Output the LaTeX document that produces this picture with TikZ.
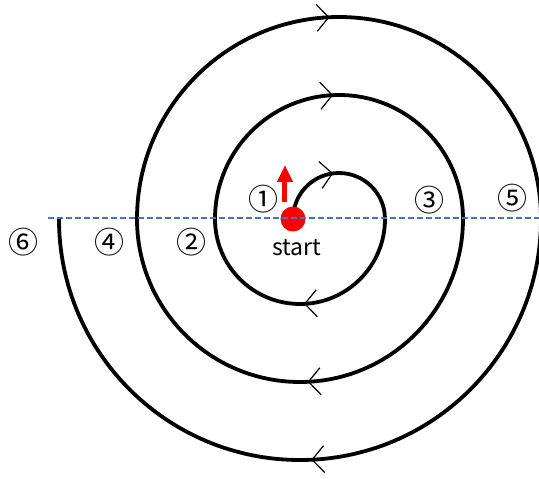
\documentclass[tikz,border=0pt]{standalone}
\usepackage{fontspec}
\setmainfont{Noto Sans CJK KR}
\usetikzlibrary{arrows.meta, decorations.markings, positioning}
\definecolor{axisblue}{RGB}{68,114,196}
\definecolor{dotred}{RGB}{255,0,0}
\tikzset{
  chev/.tip={Straight Barb[length=12pt, width=27pt, line width=1.2pt]},
  spir/.style={line width=3.8pt, black,
    decoration={markings, mark=at position #1 with {\arrow{chev}}},
    postaction={decorate}},
  spir/.default=0.485,
  axis/.style={axisblue, line width=1.6pt, dash pattern=on 6pt off 3pt},
  num/.style={font=\fontsize{30}{30}\selectfont, inner sep=0pt},
  lbl/.style={font=\fontsize{23}{23}\selectfont, inner sep=0pt},
  ptr/.style={dotred, line width=5pt, -{Triangle[length=17pt, width=15pt]}}
}

\begin{document}
\begin{tikzpicture}[x=1pt, y=1pt]
  \useasboundingbox (-293,-260) rectangle (246,219);
  \coordinate (o) at (0,0);
  % spiral: upper halves round (46,0), lower halves round (7,0)
  \draw[spir=0.46] (o) arc[start angle=180, end angle=0, radius=46] coordinate (a1);
  \draw[spir] (a1) arc[start angle=0, end angle=-180, radius=85] coordinate (a2);
  \draw[spir] (a2) arc[start angle=180, end angle=0, radius=124] coordinate (a3);
  \draw[spir] (a3) arc[start angle=0, end angle=-180, radius=163] coordinate (a4);
  \draw[spir] (a4) arc[start angle=180, end angle=0, radius=202] coordinate (a5);
  \draw[spir] (a5) arc[start angle=0, end angle=-180, radius=241] coordinate (a6);
  % start point
  \node[circle, fill=dotred, minimum size=25pt, inner sep=0pt] (dot) at (o) {};
  \node[lbl] (start) at (4,-29) {start};
  \coordinate (p0) at (-8,17);
  \coordinate (p1) at (-8,54);
  \draw[ptr] (p0) -- (p1);
  % crossing numbers
  \node[num] (n1) at (-29,20) {①};
  \node[num] (n2) at (-101,-23) {②};
  \node[num] (n3) at (137,19) {③};
  \node[num] (n4) at (-183,-23) {④};
  \node[num] (n5) at (220,21) {⑤};
  \node[num] (n6) at (-269,-23) {⑥};
  % axis
  \coordinate (axL) at (-245,1);
  \coordinate (axR) at (246,1);
  \draw[axis] (axL) -- (axR);
\end{tikzpicture}
\end{document}
